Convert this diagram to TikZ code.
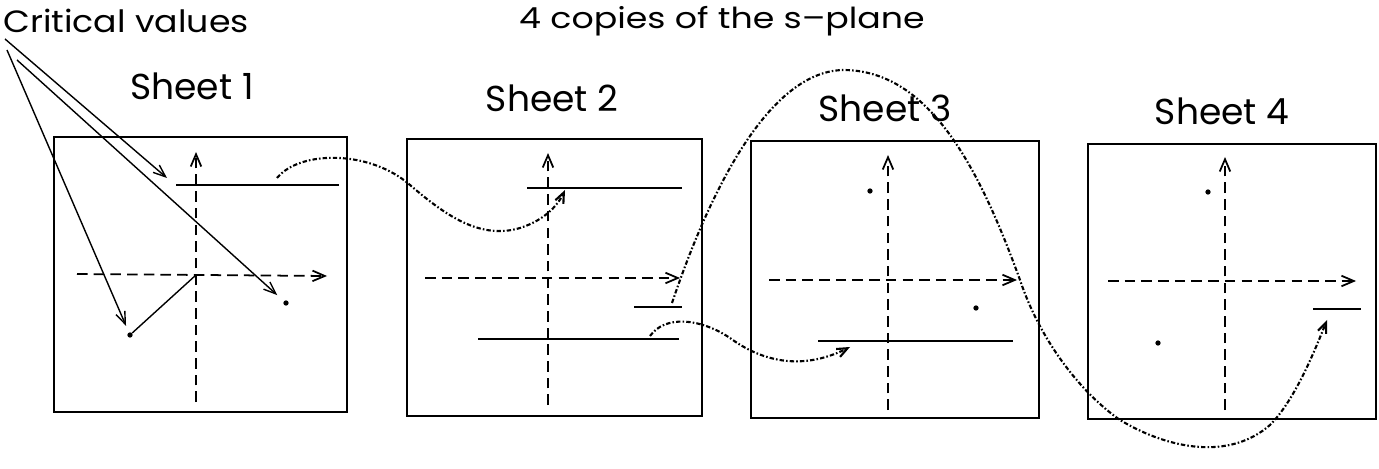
\documentclass[tikz,border=0pt]{standalone}
\usepackage{fontspec}
\usepackage{graphicx}
\setmainfont{Poppins}
\usetikzlibrary{arrows.meta}
\newcommand{\widen}[2]{\scalebox{#1}[1]{#2}}
\begin{document}
\begin{tikzpicture}[x=0.02cm,y=-0.02cm,
  sheetbox/.style={draw,line width=1.1pt,inner sep=0pt},
  axis/.style={line width=1pt,dash pattern=on 6pt off 3.5pt,-{Straight Barb[length=7pt,width=6pt]}},
  cut/.style={line width=1.3pt},
  crit/.style={circle,fill,inner sep=0pt,minimum size=3pt},
  sheetpath/.style={line width=1.2pt,dash pattern=on 2.5pt off 1.2pt on 0.9pt off 1.2pt,-{Straight Barb[length=6pt,width=5pt]}},
  pointer/.style={line width=0.8pt,-{Straight Barb[length=7pt,width=5.5pt]}},
  lbl/.style={font=\fontsize{20.5}{24}\selectfont,inner sep=0pt},
  cvlbl/.style={font=\fontsize{17.5}{20}\selectfont,inner sep=0pt},
  ttl/.style={font=\fontsize{16.5}{19}\selectfont,inner sep=0pt},
]
\useasboundingbox (0,0) rectangle (1379,469);

% labels
\node[ttl,anchor=base] (title) at (722,29) {\widen{1.2}{4 copies of the s--plane}};
\node[cvlbl,anchor=base west] (cv) at (3,33) {\widen{1.13}{Critical values}};
\node[lbl,anchor=base] (l1) at (192,100) {Sheet 1};
\node[lbl,anchor=base] (l2) at (552,112) {Sheet 2};
\node[lbl,anchor=base] (l3) at (885,122) {Sheet 3};
\node[lbl,anchor=base] (l4) at (1222,125) {Sheet 4};

% sheets
\node[sheetbox,minimum width=5.86cm,minimum height=5.5cm] (s1) at (200.5,274.5) {};
\node[sheetbox,minimum width=5.9cm,minimum height=5.54cm] (s2) at (554.5,277.5) {};
\node[sheetbox,minimum width=5.76cm,minimum height=5.54cm] (s3) at (895,279.5) {};
\node[sheetbox,minimum width=5.76cm,minimum height=5.5cm] (s4) at (1232,281.5) {};

% axes
\coordinate (o1) at (196,275);
\draw[axis] (196,402) -- (196,152);
\draw[axis] (77,274) -- (327,276);
\draw[axis] (548,405) -- (548,153);
\draw[axis] (425,278) -- (680,278);
\draw[axis] (888,410) -- (888,155);
\draw[axis] (769,280) -- (1017,280);
\draw[axis] (1225,410) -- (1225,157);
\draw[axis] (1108,281) -- (1356,281);

% branch cuts
\coordinate (c1a) at (176,185); \coordinate (c1b) at (339,185);
\draw[cut] (c1a) -- (c1b);
\coordinate (c2a) at (527,188); \coordinate (c2b) at (682,188);
\draw[cut] (c2a) -- (c2b);
\coordinate (c2c) at (634,307); \coordinate (c2d) at (682,307);
\draw[cut] (c2c) -- (c2d);
\coordinate (c2e) at (478,339); \coordinate (c2f) at (679,339);
\draw[cut] (c2e) -- (c2f);
\coordinate (c3a) at (818,341); \coordinate (c3b) at (1013,341);
\draw[cut] (c3a) -- (c3b);
\coordinate (c4a) at (1313,309); \coordinate (c4b) at (1361,309);
\draw[cut] (c4a) -- (c4b);

% critical points
\node[crit] (d1a) at (130,335) {};
\node[crit] (d1b) at (286,303) {};
\node[crit] (d3a) at (870,191) {};
\node[crit] (d3b) at (976,308) {};
\node[crit] (d4a) at (1208,192) {};
\node[crit] (d4b) at (1158,343) {};
\draw[line width=0.8pt] (d1a) -- (o1);

% pointers from the label
\coordinate (cvA) at (5,39);
\coordinate (cvB) at (7,50);
\coordinate (cvC) at (17,60);
\coordinate (tcut) at (167,178);
\draw[pointer] (cvA) -- (tcut);
\draw[pointer,shorten >=4pt] (cvB) -- (d1a);
\draw[pointer,shorten >=5pt] (cvC) -- (d1b);

% paths between sheets
\coordinate (q1s) at (277,178); \coordinate (q1e) at (565,190);
\draw[sheetpath] (q1s) .. controls (300,150) and (370,150) .. (410,185)
  .. controls (445,215) and (480,240) .. (520,228)
  .. controls (545,220) and (558,205) .. (q1e);
\coordinate (q2s) at (672,303); \coordinate (q2e) at (1327,320);
\draw[sheetpath] (q2s) .. controls (700,220) and (760,72) .. (843,70)
  .. controls (930,70) and (980,170) .. (1020,280)
  .. controls (1040,340) and (1080,392) .. (1120,420)
  .. controls (1170,450) and (1230,460) .. (1270,425)
  .. controls (1295,400) and (1315,350) .. (q2e);
\coordinate (q3s) at (650,336); \coordinate (q3e) at (850,347);
\draw[sheetpath] (q3s) .. controls (665,315) and (700,318) .. (730,338)
  .. controls (760,360) and (800,372) .. (q3e);
\end{tikzpicture}
\end{document}
